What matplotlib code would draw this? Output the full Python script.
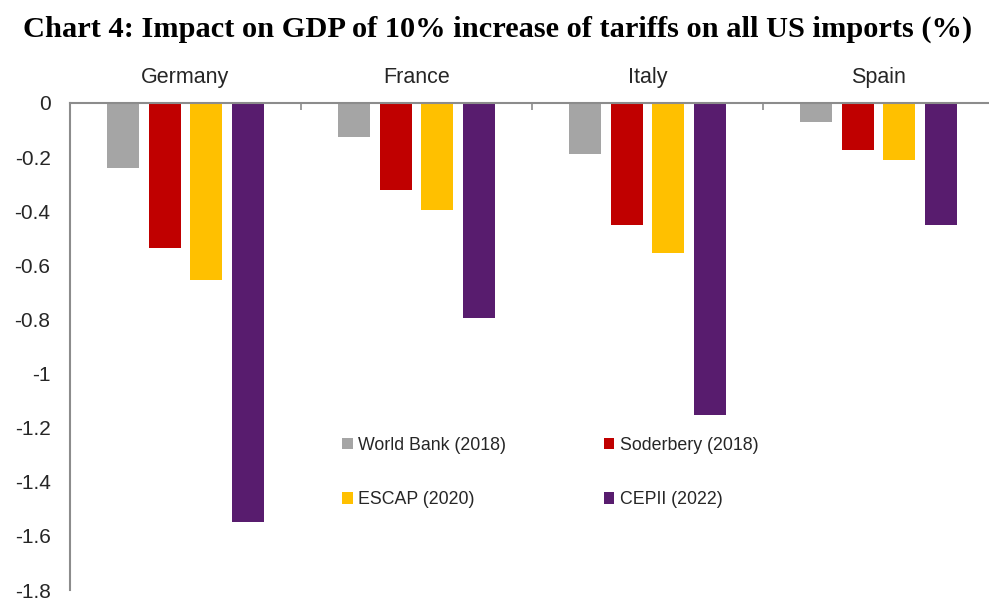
import matplotlib
matplotlib.use("Agg")
import matplotlib.pyplot as plt
from matplotlib.patches import Patch
import numpy as np

# Data: impact on GDP (%) of a 10% tariff increase on all US imports
countries = ["Germany", "France", "Italy", "Spain"]
series_names = ["World Bank (2018)", "Soderbery (2018)", "ESCAP (2020)", "CEPII (2022)"]
world_bank = [-0.24, -0.125, -0.187, -0.07]
soderbery = [-0.535, -0.32, -0.45, -0.174]
escap = [-0.656, -0.396, -0.555, -0.21]
cepii = [-1.55, -0.795, -1.155, -0.45]
y_ticks = [0, -0.2, -0.4, -0.6, -0.8, -1, -1.2, -1.4, -1.6, -1.8]
y_tick_labels = ["0", "-0.2", "-0.4", "-0.6", "-0.8", "-1", "-1.2", "-1.4", "-1.6", "-1.8"]

colors = ["#A5A5A5", "#C00000", "#FFC000", "#581C6E"]
series = [world_bank, soderbery, escap, cepii]

plt.rcParams["font.family"] = ["Liberation Sans", "DejaVu Sans"]

fig = plt.figure(figsize=(9.89, 6.03), dpi=100)
ax = fig.add_axes([70 / 989, 1 - 590 / 603, 924 / 989, 487 / 603])

x = np.arange(len(countries))
step = 0.18
width = 0.14
for k, (vals, col) in enumerate(zip(series, colors)):
    ax.bar(x + (k - 1.5) * step, vals, width=width, color=col, edgecolor="none", zorder=2)

ax.set_xlim(-0.5, len(countries) - 0.5)
ax.set_ylim(-1.8, 0)

# Category labels along the top (zero) line
ax.xaxis.tick_top()
ax.set_xticks(x)
ax.set_xticklabels(countries, fontsize=15.5, color="#262626")
ax.tick_params(axis="x", which="major", length=0, pad=11)
ax.set_xticks(np.arange(len(countries) + 1) - 0.5, minor=True)
ax.tick_params(axis="x", which="minor", length=5, direction="in", color="#8C8C8C", width=1.2)

ax.set_yticks(y_ticks)
ax.set_yticklabels(y_tick_labels, fontsize=15, color="#262626")
ax.tick_params(axis="y", length=0, pad=14)

for side in ("bottom", "right"):
    ax.spines[side].set_visible(False)
for side in ("top", "left"):
    ax.spines[side].set_color("#8C8C8C")
    ax.spines[side].set_linewidth(1.5)

# Legend: two rows of two entries
order = [0, 2, 1, 3]
handles = [Patch(facecolor=colors[i], edgecolor="none") for i in order]
labels = [series_names[i] for i in order]
fig.legend(handles, labels, ncol=2, frameon=False, loc="upper left",
           bbox_to_anchor=(342 / 989, 1 - 437 / 603), borderpad=0, borderaxespad=0,
           fontsize=12.8, handlelength=0.6, handleheight=0.6, handletextpad=0.3,
           labelspacing=2.1, columnspacing=5.5, labelcolor="#262626")

fig.text(0.5035, 1 - 29 / 603, "Chart 4: Impact on GDP of 10% increase of tariffs on all US imports (%)",
         ha="center", va="center", fontsize=21.9, fontweight="bold",
         family=["Liberation Serif"], color="black")

fig.savefig("out.png", dpi=100)
